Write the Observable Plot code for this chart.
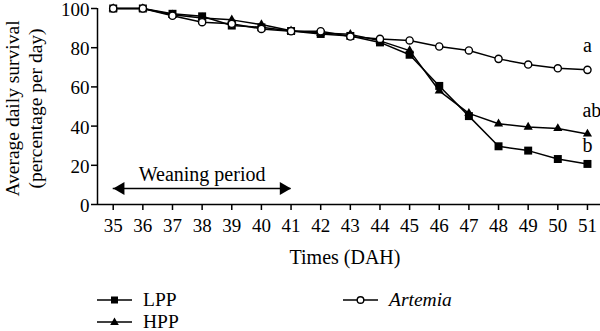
<!DOCTYPE html>
<html><head><meta charset="utf-8">
<script src="https://cdn.jsdelivr.net/npm/d3@7"></script>
<script src="https://cdn.jsdelivr.net/npm/@observablehq/plot@0.6"></script>
<style>
body{margin:0;background:#fff;font-family:"Liberation Serif","Times New Roman",serif;}
#legend{position:relative;height:51px;display:grid;grid-template-columns:246px auto;grid-template-rows:24px 20px;padding-left:97px;padding-top:8px;box-sizing:border-box;font-size:19.5px;line-height:18px;color:#000;overflow:hidden;}
.item{display:flex;align-items:center;height:100%;}
.item svg{margin-right:11px;flex:none;}
</style>
</head><body><div id="chart"></div><div id="legend"></div>
<script>
const days = [35,36,37,38,39,40,41,42,43,44,45,46,47,48,49,50,51];
const lpp = [100,100,97.3,96,91.3,90.4,88.5,87,86,82.7,76.4,60.5,45.1,29.7,27.5,23.2,20.7];
const hpp = [100,100,96.8,95.2,94.2,91.8,88.6,87.5,86.8,83.5,78.5,58,46.5,41.2,39.5,38.8,36];
const artemia = [100,100,96.3,93,92.2,89.6,88.4,88.4,85.7,84.5,83.7,80.6,78.6,74.3,71.4,69.5,68.7];
const yTicks = [0,20,40,60,80,100];
const sigLabels = ["a","ab","b"];
const sigX = [51,51.15,51];
const sigY = [81,47.7,29.8];
const weaning = {start:35, end:41, label:"Weaning period", labelY:15.5, arrowY:8.2};

const rows = days.map((d,i)=>({day:d, lpp:lpp[i], hpp:hpp[i], art:artemia[i]}));
const sig = sigLabels.map((t,i)=>({t, x:sigX[i], y:sigY[i]}));
const xDomain = [34.47, 51.44];

const chart = Plot.plot({
  width:600, height:280,
  marginLeft:97, marginRight:0, marginTop:8, marginBottom:76,
  style:{fontFamily:'"Liberation Serif", "Times New Roman", serif', fontSize:"19px", color:"#000", background:"#fff"},
  x:{domain:xDomain},
  y:{domain:[0,100]},
  marks:[
    Plot.axisX({ticks:days, tickSize:6, tickPadding:8, tickFormat:d=>String(d), strokeWidth:1.5, fontSize:19, label:null}),
    Plot.axisY({ticks:yTicks, tickSize:6, strokeWidth:1.5, text:null, label:null}),
    Plot.axisY({ticks:yTicks, tickSize:0, tickPadding:8, fontSize:19, dy:1.5, label:null}),
    Plot.ruleY([0], {strokeWidth:1.5}),
    Plot.ruleX([xDomain[0]], {y1:0, y2:100, strokeWidth:1.5}),
    Plot.line(rows, {x:"day", y:"lpp", strokeWidth:1.5}),
    Plot.line(rows, {x:"day", y:"hpp", strokeWidth:1.5}),
    Plot.line(rows, {x:"day", y:"art", strokeWidth:1.5}),
    Plot.dot(rows, {x:"day", y:"lpp", symbol:"square", r:4.5, fill:"black"}),
    Plot.dot(rows, {x:"day", y:"hpp", symbol:"triangle", r:3.4, fill:"black"}),
    Plot.dot(rows, {x:"day", y:"art", symbol:"circle", r:3.6, fill:"white", stroke:"black", strokeWidth:1.4}),
    Plot.text(sig, {x:"x", y:"y", text:"t", fontSize:20}),
    Plot.ruleY([weaning.arrowY], {x1:weaning.start, x2:weaning.end, strokeWidth:1.5}),
    Plot.dot([weaning], {x:"end", y:"arrowY", symbol:"triangle", rotate:90, r:4.8, fill:"black", dx:-7.5}),
    Plot.dot([weaning], {x:"start", y:"arrowY", symbol:"triangle", rotate:-90, r:4.8, fill:"black", dx:7.5}),
    Plot.text([weaning], {x:(weaning.start+weaning.end)/2, y:"labelY", text:"label", fontSize:20}),
    Plot.text(["Times (DAH)"], {frameAnchor:"bottom", dy:53, dx:-4, text:d=>d, fontSize:20, lineAnchor:"middle", textAnchor:"middle"}),
    Plot.text(["Average daily survival\n(percentage per day)"], {frameAnchor:"left", dx:-74, dy:2, rotate:-90, text:d=>d, fontSize:19.5, lineHeight:1.17, textAnchor:"middle", lineAnchor:"middle"})
  ]
});
document.getElementById("chart").appendChild(chart);

const legendItems = [
  {name:"LPP", sym:"square", italic:false},
  {name:"Artemia", sym:"circle", italic:true},
  {name:"HPP", sym:"triangle", italic:false}
];
const leg = document.getElementById("legend");
const symSvg = {
  square:'<rect x="14" y="8.5" width="7" height="7" fill="black"/>',
  circle:'<circle cx="17.5" cy="12" r="3.3" fill="white" stroke="black" stroke-width="1.4"/>',
  triangle:'<path d="M17.5,7.5 L21.8,15 L13.2,15 Z" fill="black"/>'
};
legendItems.forEach(it=>{
  const div = document.createElement("div");
  div.className="item";
  div.innerHTML = `<svg width="35" height="24"><line x1="0" x2="35" y1="12" y2="12" stroke="black" stroke-width="1.5"/>${symSvg[it.sym]}</svg><span style="${it.italic?'font-style:italic':''}">${it.name}</span>`;
  leg.appendChild(div);
});
</script>
</body></html>
